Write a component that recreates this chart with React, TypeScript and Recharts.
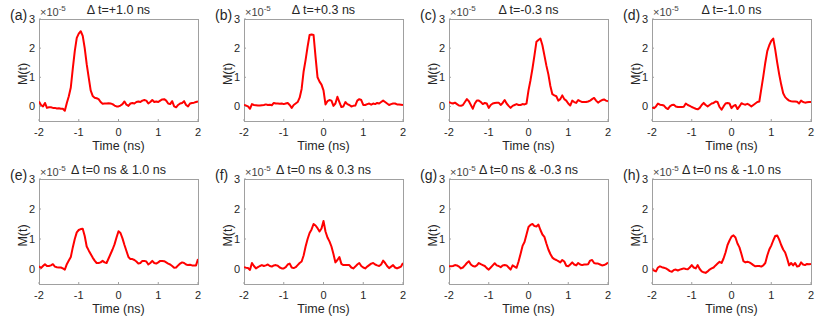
import React from 'react';
import { LineChart, Line, XAxis, YAxis } from 'recharts';

const TIME_NS = [
  -2, -1.95, -1.9, -1.85, -1.8, -1.75, -1.7, -1.65, -1.6, -1.55,
  -1.5, -1.45, -1.4, -1.35, -1.3, -1.25, -1.2, -1.15, -1.1, -1.05,
  -1, -0.95, -0.9, -0.85, -0.8, -0.75, -0.7, -0.65, -0.6, -0.55,
  -0.5, -0.45, -0.4, -0.35, -0.3, -0.25, -0.2, -0.15, -0.1, -0.05,
  0, 0.05, 0.1, 0.15, 0.2, 0.25, 0.3, 0.35, 0.4, 0.45,
  0.5, 0.55, 0.6, 0.65, 0.7, 0.75, 0.8, 0.85, 0.9, 0.95,
  1, 1.05, 1.1, 1.15, 1.2, 1.25, 1.3, 1.35, 1.4, 1.45,
  1.5, 1.55, 1.6, 1.65, 1.7, 1.75, 1.8, 1.85, 1.9, 1.95,
  2,
];

// M(t) in units of 1e-5
const SERIES_A = [
  0.17, 0.05, 0.0, 0.12, -0.05, -0.03, -0.03, -0.05, -0.05, -0.07,
  -0.06, -0.08, -0.08, -0.15, 0.12, 0.35, 0.65, 1.3, 1.9, 2.35,
  2.5, 2.58, 2.42, 2.0, 1.45, 1.0, 0.55, 0.36, 0.3, 0.28,
  0.25, 0.15, 0.09, 0.1, 0.1, 0.11, 0.1, 0.08, 0.03, 0.0,
  0.0, 0.03, 0.08, 0.17, 0.06, 0.02, 0.1, 0.12, 0.1, 0.15,
  0.17, 0.15, 0.2, 0.22, 0.2, 0.1, 0.15, 0.22, 0.15, 0.17,
  0.15, 0.2, 0.24, 0.25, 0.2, 0.1, 0.08, 0.18, 0.0, -0.03,
  0.05, 0.1, 0.12, 0.18, 0.05, 0.0, 0.1, 0.12, 0.13, 0.15,
  0.17,
];
const SERIES_B = [
  0.05, 0.03, 0.0, -0.08, 0.08, 0.05, 0.04, 0.03, 0.03, 0.04,
  0.05, 0.07, 0.05, 0.06, 0.04, 0.12, 0.1, 0.1, 0.09, 0.1,
  0.08, 0.1, 0.12, 0.05, -0.05, 0.05, 0.1, 0.15, 0.3, 0.6,
  1.2, 1.6, 2.05, 2.45, 2.47, 2.45, 1.7, 1.0, 0.85, 0.75,
  0.55, 0.07, 0.18, 0.22, 0.2, 0.02, 0.1, 0.33, 0.15, -0.02,
  0.0, 0.15, 0.08, 0.05, 0.0, 0.02, 0.03, 0.2, 0.25, 0.22,
  0.05, 0.05, 0.08, 0.1, 0.06, 0.1, 0.08, 0.12, 0.1, 0.15,
  0.2, 0.15, 0.1, 0.05, 0.08, 0.1, 0.1, 0.07, 0.07, 0.06,
  0.05,
];
const SERIES_C = [
  0.15, 0.12, 0.1, 0.13, 0.08, 0.03, 0.02, 0.05, 0.15, 0.25,
  0.18, 0.05, -0.08, 0.1, 0.2, 0.2, 0.15, 0.08, 0.12, 0.1,
  -0.05, 0.05, 0.1, 0.12, 0.13, 0.13, 0.05, 0.12, 0.22, 0.1,
  0.02, -0.05, 0.02, 0.05, 0.08, 0.05, 0.05, 0.08, 0.07, 0.1,
  0.55, 0.9, 1.3, 1.75, 2.22, 2.28, 2.33, 2.1, 1.75, 1.4,
  1.1, 0.7, 0.42, 0.38, 0.35, 0.2, 0.25, 0.38, 0.25, 0.2,
  0.1, 0.03, 0.2, 0.15, 0.12, 0.22, 0.18, 0.15, 0.15, 0.15,
  0.17, 0.2, 0.25, 0.29, 0.2, 0.13, 0.18, 0.22, 0.24, 0.2,
  0.18,
];
const SERIES_D = [
  -0.03, -0.06, 0.0, 0.1, 0.06, 0.05, 0.03, -0.05, -0.09, 0.0,
  0.05, 0.06, 0.0, -0.02, -0.02, -0.02, -0.01, 0.1, 0.05, 0.02,
  -0.02, -0.05, -0.08, -0.1, -0.05, 0.05, 0.12, 0.05, 0.0, 0.05,
  0.1, 0.12, 0.17, 0.15, -0.02, -0.11, 0.0, 0.1, 0.12, 0.1,
  -0.06, 0.02, 0.05, -0.09, 0.0, 0.11, 0.08, 0.06, 0.09, 0.05,
  0.0, 0.05, 0.1, 0.15, 0.17, 0.6, 1.03, 1.5, 1.9, 2.1,
  2.25, 2.33, 1.95, 1.5, 1.1, 0.75, 0.45, 0.32, 0.25, 0.2,
  0.18, 0.17, 0.17, 0.16, 0.1, 0.2, 0.15, 0.13, 0.14, 0.15,
  0.15,
];
const SERIES_E = [
  0.09, 0.03, 0.1, 0.16, 0.1, 0.1, 0.12, 0.16, 0.08, 0.06,
  0.05, 0.05, 0.02, -0.02, 0.16, 0.28, 0.4, 0.72, 1.0, 1.22,
  1.3, 1.33, 1.34, 1.1, 0.75, 0.62, 0.5, 0.38, 0.28, 0.2,
  0.2, 0.22, 0.27, 0.22, 0.2, 0.35, 0.5, 0.65, 0.82, 1.05,
  1.26, 1.2, 1.02, 0.8, 0.6, 0.4, 0.33, 0.33, 0.3, 0.25,
  0.18, 0.2, 0.27, 0.27, 0.25, 0.15, 0.2, 0.27, 0.2, 0.18,
  0.22, 0.27, 0.27, 0.26, 0.22, 0.18, 0.15, 0.1, 0.04, 0.05,
  0.12, 0.18, 0.22, 0.2, 0.15, 0.13, 0.14, 0.12, 0.12, 0.12,
  0.33,
];
const SERIES_F = [
  0.06, 0.04, 0.03, -0.03, 0.2, 0.1, 0.02, 0.06, 0.1, 0.13,
  0.1, 0.12, 0.15, 0.1, 0.08, 0.12, 0.13, 0.11, 0.05, 0.02,
  0.02, 0.06, 0.15, 0.18, 0.05, 0.03, 0.06, 0.13, 0.2, 0.25,
  0.45, 0.75, 1.0, 1.2, 1.32, 1.5, 1.45, 1.36, 1.25, 1.35,
  1.6, 1.25, 1.05, 0.92, 0.75, 0.5, 0.22, 0.3, 0.4, 0.17,
  0.13, 0.13, 0.13, 0.13, 0.05, 0.02, 0.08, 0.15, 0.2, 0.1,
  0.05, 0.02, 0.08, 0.13, 0.18, 0.2, 0.15, 0.12, 0.1, 0.15,
  0.28, 0.2, 0.1, 0.03, 0.08, 0.13, 0.05, 0.02, 0.05, 0.08,
  0.2,
];
const SERIES_G = [
  0.09, 0.09, 0.1, 0.13, 0.12, 0.08, 0.02, 0.05, 0.12, 0.2,
  0.26, 0.15, 0.1, 0.08, 0.12, 0.2, 0.16, 0.13, 0.1, 0.03,
  -0.02, 0.05, 0.12, 0.19, 0.12, 0.1, 0.06, 0.12, 0.13, 0.12,
  0.05, -0.02, 0.12, 0.08, 0.04, 0.25, 0.5, 0.77, 0.9, 1.15,
  1.4, 1.47, 1.5, 1.43, 1.42, 1.48, 1.3, 1.15, 1.07, 0.85,
  0.65, 0.5, 0.38, 0.33, 0.3, 0.26, 0.22, 0.3, 0.25, 0.11,
  0.09, 0.15, 0.22, 0.15, 0.12, 0.2, 0.15, 0.13, 0.15, 0.15,
  0.16, 0.28, 0.3, 0.2, 0.18, 0.18, 0.15, 0.12, 0.13, 0.16,
  0.22,
];
const SERIES_H = [
  0.02, -0.05, -0.08, 0.05, 0.09, 0.06, 0.04, 0.02, -0.02, -0.07,
  -0.09, -0.03, -0.02, -0.05, -0.02, 0.0, 0.02, 0.0, -0.01, 0.05,
  0.13, 0.05, 0.02, 0.13, 0.0, -0.08, -0.11, -0.13, -0.08, -0.02,
  0.02, 0.05, 0.12, 0.18, 0.24, 0.2, 0.35, 0.55, 0.8, 0.95,
  1.08, 1.12, 1.05, 0.85, 0.72, 0.5, 0.26, 0.22, 0.24, 0.22,
  0.18, 0.13, 0.09, 0.1, 0.1, 0.08, 0.12, 0.2, 0.45, 0.65,
  0.78, 0.95, 1.1, 1.12, 0.98, 0.8, 0.65, 0.55, 0.35, 0.12,
  0.2, 0.12, 0.2, 0.08, 0.1, 0.22, 0.15, 0.13, 0.17, 0.16,
  0.17,
];

const PANEL_LETTERS = ['(a)', '(b)', '(c)', '(d)', '(e)', '(f)', '(g)', '(h)'];
const PANEL_TITLES = [
  'Δ t=+1.0 ns',
  'Δ t=+0.3 ns',
  'Δ t=-0.3 ns',
  'Δ t=-1.0 ns',
  'Δ t=0 ns & 1.0 ns',
  'Δ t=0 ns & 0.3 ns',
  'Δ t=0 ns & -0.3 ns',
  'Δ t=0 ns & -1.0 ns',
];
const PANEL_SERIES = [SERIES_A, SERIES_B, SERIES_C, SERIES_D, SERIES_E, SERIES_F, SERIES_G, SERIES_H];
const X_TICKS = [-2, -1, 0, 1, 2];
const Y_TICKS = [0, 1, 2, 3];
const X_DOMAIN = [-2, 2];
const Y_DOMAIN = [-0.5, 3];
const X_LABEL = 'Time (ns)';
const Y_LABEL = 'M(t)';

const FONT = '"Liberation Sans", Arial, Helvetica, sans-serif';
const TEXT = '#262626';
const AXIS = '#a0a0a0';
const ML = 39;
const MT = 18;
const MR = 8;
const MB = 34;
const AX = 1;

const COL_LEFT = [39, 244, 449, 652];
const PLOT_W = 159;
const ROWS = [
  { top: 19, h: 102 },
  { top: 179, h: 105 },
];

function Panel({ values, letter, title, left, top, w, h }: any) {
  const data = TIME_NS.map((t, i) => ({ t, m: values[i] }));
  const tickStyle = { fill: TEXT, fontSize: 11, fontFamily: FONT };
  return (
    <div style={{ position: 'absolute', left: left - ML, top: top - MT, width: w + ML + MR, height: h + MT + MB }}>
      {/* MATLAB-style axes box drawn as an HTML frame under the chart */}
      <div
        style={{
          position: 'absolute',
          left: ML,
          top: MT,
          width: w + 1,
          height: h + 1,
          boxSizing: 'border-box',
          border: `1px solid ${AXIS}`,
          pointerEvents: 'none',
        }}
      />
      <div style={{ position: 'absolute', left: 0, top: 0 }}>
        <LineChart
          width={w + ML + MR}
          height={h + MT + MB}
          data={data}
          margin={{ top: MT, right: MR, bottom: MB - AX, left: 0 }}
        >
          <XAxis
            dataKey="t"
            type="number"
            domain={X_DOMAIN}
            ticks={X_TICKS}
            allowDataOverflow
            height={AX}
            tickSize={-2}
            tickMargin={9.5}
            tick={tickStyle}
            stroke={AXIS}
            tickLine={{ stroke: AXIS }}
            axisLine={false}
          />
          <YAxis
            type="number"
            domain={Y_DOMAIN}
            ticks={Y_TICKS}
            allowDataOverflow
            width={ML}
            tickSize={-2}
            tickMargin={6}
            tick={tickStyle}
            stroke={AXIS}
            tickLine={{ stroke: AXIS }}
            axisLine={false}
          />
          <Line
            type="linear"
            dataKey="m"
            stroke="#ff0000"
            strokeWidth={2}
            strokeLinejoin="round"
            dot={false}
            activeDot={false}
            isAnimationActive={false}
          />
          <text x={ML + w / 2} y={MT - 5} textAnchor="middle" fontSize={12.5} fontFamily={FONT} fill={TEXT}>
            {title}
          </text>
          <text x={ML + 1} y={MT - 3.5} fontSize={11} fontFamily={FONT} fill="#444">
            ×10
            <tspan dy={-4.5} fontSize={8}>-5</tspan>
          </text>
          <text x={ML - 29} y={MT + 1} fontSize={14} fontFamily={FONT} fill={TEXT}>
            {letter}
          </text>
          <text
            x={ML - 12.5}
            y={MT + h / 2 + 4}
            textAnchor="middle"
            fontSize={12.5}
            fontFamily={FONT}
            fill={TEXT}
            transform={`rotate(-90, ${ML - 12.5}, ${MT + h / 2 + 4})`}
          >
            {Y_LABEL}
          </text>
          <text x={ML + w / 2} y={MT + h + 29.3} textAnchor="middle" fontSize={12.5} fontFamily={FONT} fill={TEXT}>
            {X_LABEL}
          </text>
        </LineChart>
      </div>
    </div>
  );
}

export default function App() {
  return (
    <div
      style={{
        position: 'absolute',
        left: 0,
        top: 0,
        width: 830,
        height: 319,
        overflow: 'hidden',
        background: '#fff',
        fontFamily: FONT,
      }}
    >
      {PANEL_SERIES.map((values, i) => {
        const row = ROWS[Math.floor(i / 4)];
        return (
          <Panel
            key={i}
            values={values}
            letter={PANEL_LETTERS[i]}
            title={PANEL_TITLES[i]}
            left={COL_LEFT[i % 4]}
            top={row.top}
            w={PLOT_W}
            h={row.h}
          />
        );
      })}
    </div>
  );
}
